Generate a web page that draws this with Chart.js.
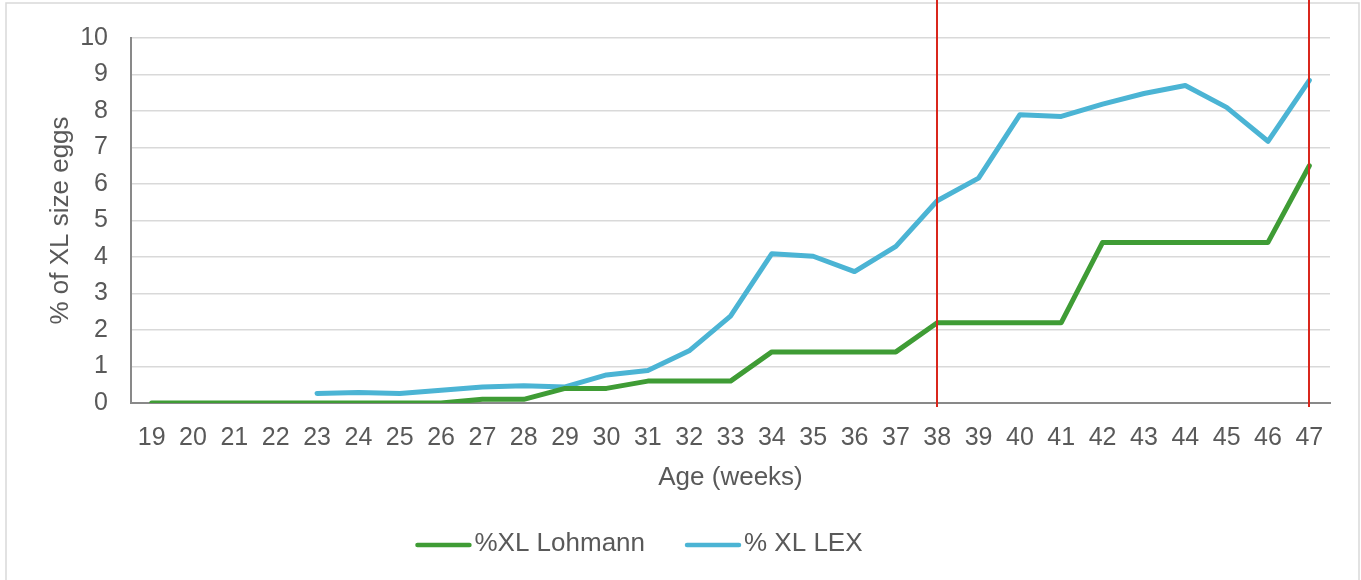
<!DOCTYPE html>
<html>
<head>
<meta charset="utf-8">
<script src="https://cdn.jsdelivr.net/npm/chart.js@4/dist/chart.umd.min.js"></script>
<style>
  html, body { margin: 0; padding: 0; background: #ffffff; }
  #wrap { width: 1361px; height: 580px; position: relative; }
</style>
</head>
<body>
<div id="wrap"><canvas id="chart" width="1361" height="580"></canvas></div>
<script>
// Age of the flock in weeks
const weeks = ['19','20','21','22','23','24','25','26','27','28','29','30','31','32','33',
               '34','35','36','37','38','39','40','41','42','43','44','45','46','47'];

// Share of XL eggs (%) per week
const lohmannXL = [0,0,0,0,0,0,0,0,0.1,0.1,0.4,0.4,0.6,0.6,0.6,
                   1.4,1.4,1.4,1.4,2.2,2.2,2.2,2.2,4.4,4.4,4.4,4.4,4.4,6.5];
const lexXL = [null,null,null,null,0.26,0.29,0.26,0.35,0.44,0.47,0.44,0.77,0.89,1.43,2.38,
               4.09,4.02,3.6,4.29,5.54,6.16,7.9,7.85,8.19,8.48,8.7,8.1,7.17,8.84];

// Weeks marked with a vertical reference line
const markerWeeks = ['38','47'];

const seriesNames = ['%XL Lohmann', '% XL LEX'];
const seriesColors = ['#3f9c35', '#4bb4d4'];

const textColor = '#595959';
const fontFamily = "'Liberation Sans', Arial, sans-serif";

// Plot area edges inside the canvas
const plotBox = { left: 131, top: 33, right: 1330, bottom: 403 };

// Light frame around the whole chart
const framePlugin = {
  id: 'frame',
  beforeDraw(chart) {
    const ctx = chart.ctx;
    ctx.save();
    ctx.strokeStyle = '#d9d9d9';
    ctx.lineWidth = 1.5;
    ctx.strokeRect(6, 3, chart.width - 8, chart.height + 10);
    ctx.restore();
  }
};

// Vertical red reference lines at the marked weeks
const markerPlugin = {
  id: 'markers',
  afterDatasetsDraw(chart) {
    const ctx = chart.ctx;
    const xs = chart.scales.x;
    const area = chart.chartArea;
    ctx.save();
    ctx.strokeStyle = '#d9261c';
    ctx.lineWidth = 2;
    markerWeeks.forEach(w => {
      const x = Math.round(xs.getPixelForValue(weeks.indexOf(w)));
      ctx.beginPath();
      ctx.moveTo(x, 0);
      ctx.lineTo(x, area.bottom + 4);
      ctx.stroke();
    });
    ctx.restore();
  }
};

// Legend row: a short line sample followed by the series name
const legendPlugin = {
  id: 'lineLegend',
  afterDraw(chart) {
    const ctx = chart.ctx;
    const sample = 56, gap = 3, itemGap = 40, y = 544, centerX = 639;
    ctx.save();
    ctx.font = '26px ' + fontFamily;
    const widths = chart.data.datasets.map(d => sample + gap + ctx.measureText(d.label).width);
    const total = widths.reduce((a, b) => a + b, 0) + itemGap * (widths.length - 1);
    let x = centerX - total / 2;
    chart.data.datasets.forEach((d, i) => {
      ctx.strokeStyle = d.borderColor;
      ctx.lineWidth = 4.5;
      ctx.lineCap = 'round';
      ctx.beginPath();
      ctx.moveTo(x + 2, y + 1);
      ctx.lineTo(x + sample - 2, y + 1);
      ctx.stroke();
      ctx.fillStyle = textColor;
      ctx.textBaseline = 'middle';
      ctx.textAlign = 'left';
      ctx.fillText(d.label, x + sample + gap, y);
      x += widths[i] + itemGap;
    });
    ctx.restore();
  }
};

new Chart(document.getElementById('chart'), {
  type: 'line',
  data: {
    labels: weeks,
    datasets: [
      { label: seriesNames[0], data: lohmannXL, borderColor: seriesColors[0], backgroundColor: seriesColors[0] },
      { label: seriesNames[1], data: lexXL, borderColor: seriesColors[1], backgroundColor: seriesColors[1] }
    ]
  },
  options: {
    responsive: false,
    animation: false,
    spanGaps: false,
    layout: { padding: { left: 0, right: 1361 - plotBox.right, top: plotBox.top, bottom: 80 } },
    elements: {
      line: { borderWidth: 5, tension: 0, borderCapStyle: 'round', borderJoinStyle: 'round' },
      point: { radius: 0, hoverRadius: 0 }
    },
    plugins: {
      legend: { display: false },
      tooltip: { enabled: false }
    },
    scales: {
      x: {
        offset: true,
        afterFit(s) { s.height = 580 - 80 - plotBox.bottom; },
        grid: { display: false, drawTicks: false },
        border: { display: true, color: '#898989', width: 2 },
        ticks: { color: textColor, font: { family: fontFamily, size: 25 }, padding: 20, maxRotation: 0, autoSkip: false },
        title: { display: true, text: 'Age (weeks)', color: textColor, font: { family: fontFamily, size: 26 }, padding: { top: 0, bottom: 7 } }
      },
      y: {
        min: 0,
        max: 10,
        afterFit(s) { s.width = plotBox.left; },
        // keep the value axis pinned to the plot box edges
        afterUpdate(s) {
          s.top = plotBox.top; s.bottom = plotBox.bottom; s.height = plotBox.bottom - plotBox.top;
          s._startPixel = plotBox.bottom; s._endPixel = plotBox.top; s._length = plotBox.top - plotBox.bottom;
        },
        grid: { color: '#d9d9d9', lineWidth: 1.5, drawTicks: false },
        border: { display: true, color: '#898989', width: 2 },
        ticks: { stepSize: 1, color: textColor, font: { family: fontFamily, size: 25 }, padding: 23 },
        title: { display: true, text: '% of XL size eggs', color: textColor, font: { family: fontFamily, size: 26 }, padding: { top: 45, bottom: 0 } }
      }
    }
  },
  plugins: [framePlugin, markerPlugin, legendPlugin]
});
</script>
</body>
</html>
